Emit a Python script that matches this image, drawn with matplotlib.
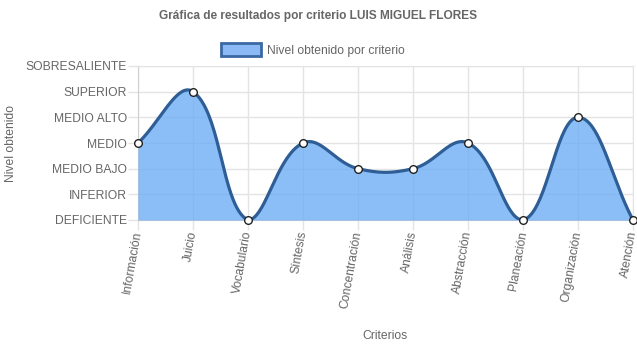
import matplotlib
matplotlib.use("Agg")
import matplotlib.pyplot as plt
import numpy as np
from matplotlib.patches import Patch

categories = ["Información", "Juicio", "Vocabulario", "Síntesis", "Concentración",
              "Análisis", "Abstracción", "Planeación", "Organización", "Atención"]
values = [3, 5, 0, 3, 2, 2, 3, 0, 4, 0]
level_labels = ["DEFICIENTE", "INFERIOR", "MEDIO BAJO", "MEDIO", "MEDIO ALTO",
                "SUPERIOR", "SOBRESALIENTE"]
title = "Gráfica de resultados por criterio LUIS MIGUEL FLORES"
legend_label = "Nivel obtenido por criterio"
ylabel = "Nivel obtenido"
xlabel = "Criterios"

plt.rcParams["font.family"] = ["Liberation Sans", "DejaVu Sans"]
TXT = "#666666"
FILL = (0.42, 0.67, 0.96, 0.78)
LINE = "#2e5e95"
GRID = "#e4e4e4"

W, H = 637, 348
fig = plt.figure(figsize=(W / 100, H / 100), dpi=100)
L, R, T, B = 138, 633, 66, 220
ax = fig.add_axes([L / W, 1 - B / H, (R - L) / W, (B - T) / H])
n = len(categories)
xs = np.arange(n)
ax.set_xlim(0, n - 1)
ax.set_ylim(0, len(level_labels) - 1)

# Chart.js style bezier (tension 0.4) computed in display space
pts = ax.transData.transform(np.column_stack([xs, values]).astype(float))
tension = 0.4
cps = []
for i in range(n):
    cur = pts[i]
    prev = pts[i - 1] if i > 0 else cur
    nxt = pts[i + 1] if i < n - 1 else cur
    d01 = np.hypot(*(cur - prev))
    d12 = np.hypot(*(nxt - cur))
    tot = d01 + d12
    s01 = d01 / tot if tot else 0
    s12 = d12 / tot if tot else 0
    fa, fb = tension * s01, tension * s12
    cp1 = cur - fa * (nxt - prev)
    cp2 = cur + fb * (nxt - prev)
    cps.append((cp1, cp2))
ymin_d = ax.transData.transform((0, 0))[1]
ymax_d = ax.transData.transform((0, len(level_labels) - 1))[1]
curve = []
tt = np.linspace(0, 1, 40)[:, None]
for i in range(n - 1):
    p0 = pts[i]
    c1 = cps[i][1].copy()
    c2 = cps[i + 1][0].copy()
    p3 = pts[i + 1]
    for c in (c1, c2):
        c[1] = min(max(c[1], ymin_d), ymax_d)
    seg = ((1 - tt) ** 3) * p0 + 3 * ((1 - tt) ** 2) * tt * c1 + 3 * (1 - tt) * tt ** 2 * c2 + tt ** 3 * p3
    curve.append(seg if i == 0 else seg[1:])
curve = np.vstack(curve)
cdata = ax.transData.inverted().transform(curve)

ax.fill_between(cdata[:, 0], cdata[:, 1], 0, color=FILL, lw=0, zorder=2)
ax.plot(cdata[:, 0], cdata[:, 1], color=LINE, lw=2.3, zorder=3, solid_capstyle="round")
ax.plot(xs, values, "o", ms=5.5, mfc="white", mec="#222222", mew=1.0, zorder=4, clip_on=False)

ax.set_yticks(range(len(level_labels)))
ax.set_yticklabels(level_labels)
ax.set_xticks(xs)
ax.set_xticklabels(categories, rotation=80, ha="right", va="center", rotation_mode="anchor")
ax.tick_params(axis="both", colors=GRID, labelcolor=TXT, labelsize=8.7, length=7, width=1)
ax.tick_params(axis="y", pad=1)
ax.tick_params(axis="x", pad=1)
ax.grid(True, color=GRID, lw=1, zorder=0)
ax.set_axisbelow(True)
for s in ax.spines.values():
    s.set_color(GRID)
    s.set_zorder(1)
ax.spines["left"].set_color("#d0d0d0")
ax.spines["bottom"].set_color("#d0d0d0")

fig.text(318 / W, 1 - 16 / H, title, ha="center", va="center", fontsize=8.6,
         fontweight="bold", color=TXT)
fig.text(11 / W, 1 - 143 / H, ylabel, ha="center", va="center", rotation=90,
         fontsize=8.7, color=TXT)
fig.text(385 / W, 1 - 336 / H, xlabel, ha="center", va="center", fontsize=8.7, color=TXT)

handle = Patch(facecolor="#8ab9f5", edgecolor="#3a69a2", linewidth=2)
fig.legend([handle], [legend_label], loc="center", bbox_to_anchor=(313 / W, 1 - 50 / H),
           frameon=False, fontsize=8.7, handlelength=3.3, handleheight=1.3,
           handletextpad=0.5, labelcolor=TXT)

fig.savefig("out.png", dpi=100)
